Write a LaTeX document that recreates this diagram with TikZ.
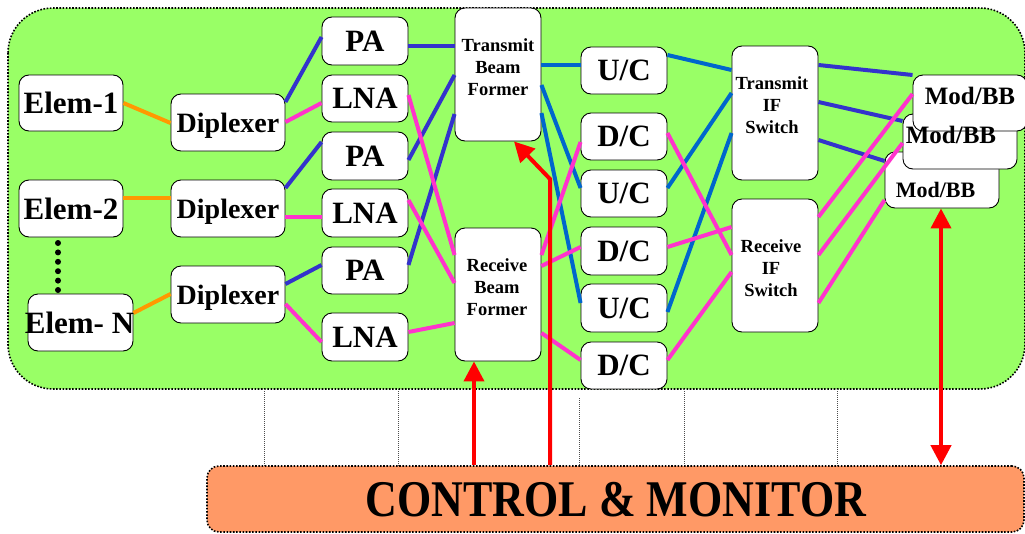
\documentclass[tikz,border=0pt]{standalone}
\usepackage{fontspec}
\setmainfont{Liberation Serif}
\usetikzlibrary{arrows.meta}
\definecolor{bggreen}{HTML}{99FF66}
\definecolor{ctrlorange}{HTML}{FF9966}
\definecolor{lnpink}{HTML}{FF33CC}
\definecolor{lnblue}{HTML}{3333CC}
\definecolor{lnsky}{HTML}{0066CC}
\definecolor{lnorange}{HTML}{FF9900}
\definecolor{arrred}{HTML}{FF0000}
\begin{document}
\begin{tikzpicture}[x=1pt,y=-1pt,
  blk/.style={draw=black, line width=0.9pt, fill=white, rounded corners=10pt, inner sep=0pt,
    font=\bfseries\fontsize{31}{31}\selectfont, text depth=0pt},
  small/.style={blk, minimum width=86pt},
  txt/.style={inner sep=0pt, align=center, font=\bfseries\fontsize{18.5}{22}\selectfont},
  mbtxt/.style={inner sep=0pt, text depth=0pt},
  dotframe/.style={draw=black, line width=1.6pt, dash pattern=on 1.6pt off 1.6pt},
  guide/.style={draw=black!70, line width=0.8pt, dash pattern=on 1pt off 1pt},
  cor/.style={line width=4pt, lnorange},
  cbl/.style={line width=4pt, lnblue},
  cpk/.style={line width=4pt, lnpink},
  csk/.style={line width=4pt, lnsky},
  redarrow/.style={draw=arrred, line width=4pt, -{Triangle[width=20pt,length=20pt]}},
  reddbl/.style={draw=arrred, line width=4pt, {Triangle[width=20pt,length=20pt]}-{Triangle[width=20pt,length=20pt]}}
]
\useasboundingbox (0,0) rectangle (1025,533);
% background panel
\path[fill=bggreen, dotframe, rounded corners=45pt] (8,8) rectangle (1025,389);
% thin guides
\foreach \gx in {264,398,684,837} \draw[guide] (\gx,389) -- (\gx,466);
\draw[guide] (579,398) -- (579,473);
% control box
\node[draw=black, line width=1.6pt, dash pattern=on 1.6pt off 1.6pt, fill=ctrlorange, rounded corners=12pt,
  minimum width=817pt, minimum height=66pt, inner sep=0pt] (ctrl) at (615.5,499) {};
\node[inner sep=0pt, font=\bfseries\fontsize{44}{44}\selectfont] (ctrltxt) at (616,500) {\scalebox{1}[1.17]{CONTROL \& MONITOR}};

% boxes
\node[blk, minimum width=104pt, minimum height=56pt] (e1) at (71,103) {Elem-1};
\node[blk, minimum width=104pt, minimum height=57pt] (e2) at (71,208.5) {Elem-2};
\node[blk, minimum width=105pt, minimum height=57pt] (eN) at (80.5,322.5) {};
\node[inner sep=0pt, font=\bfseries\fontsize{31}{31}\selectfont, text depth=0pt] (eNt) at (79.5,323) {Elem- N};
\foreach \dy in {243,252.4,261.8,271.2,280.6,290} \fill (58,\dy) circle (3pt);

\tikzset{dip/.style={blk, minimum width=114pt, minimum height=57pt, font=\bfseries\fontsize{28}{28}\selectfont}}
\node[dip] (d1) at (228,122.5) {Diplexer};
\node[dip] (d2) at (228,208.5) {Diplexer};
\node[dip] (d3) at (228,294.5) {Diplexer};

\node[small, minimum height=48pt] (pa1) at (365,41) {PA};
\node[small, minimum height=47pt] (lna1) at (365,98.5) {LNA};
\node[small, minimum height=48pt] (pa2) at (365,156) {PA};
\node[small, minimum height=48pt] (lna2) at (365,213) {LNA};
\node[small, minimum height=47pt] (pa3) at (365,270.5) {PA};
\node[small, minimum height=48pt] (lna3) at (365,337) {LNA};

\node[small, minimum height=133pt] (tbf) at (498,74.5) {};
\node[small, minimum height=133pt] (rbf) at (498,294.5) {};

\node[small, minimum height=47pt] (uc1) at (624,70.5) {U/C};
\node[small, minimum height=47pt] (dc1) at (624,136.5) {D/C};
\node[small, minimum height=47pt] (uc2) at (624,193.5) {U/C};
\node[small, minimum height=48pt] (dc2) at (624,251) {D/C};
\node[small, minimum height=48pt] (uc3) at (624,308) {U/C};
\node[small, minimum height=47pt] (dc3) at (624,365.5) {D/C};

\node[small, minimum height=134pt] (tif) at (775,113) {};
\node[small, minimum height=133pt] (rif) at (775,265.5) {};

% connectors
\draw[cor] (e1.east |- 0,103) -- (d1.west |- 0,123);
\draw[cor] (e2.east |- 0,198) -- (d2.west |- 0,198);
\draw[cor] (eN.east |- 0,313) -- (d3.west |- 0,294);

\draw[cbl] (d1.east |- 0,102) -- (pa1.west |- 0,37);
\draw[cbl] (d2.east |- 0,188) -- (pa2.west |- 0,142);
\draw[cbl] (d3.east |- 0,284) -- (pa3.west |- 0,265);
\draw[cpk] (d1.east |- 0,122) -- (lna1.west |- 0,103);
\draw[cpk] (d2.east |- 0,217) -- (lna2.west |- 0,217);
\draw[cpk] (d3.east |- 0,304) -- (lna3.west |- 0,342);

\draw[cbl] (pa1.east |- 0,46) -- (tbf.west |- 0,46);
\draw[cbl] (pa2.east |- 0,160) -- (tbf.west |- 0,75);
\draw[cbl] (pa3.east |- 0,265) -- (tbf.west |- 0,114);
\draw[cpk] (lna1.east |- 0,95) -- (rbf.west |- 0,255);
\draw[cpk] (lna2.east |- 0,200) -- (rbf.west |- 0,283);
\draw[cpk] (lna3.east |- 0,332) -- (rbf.west |- 0,323);

\draw[csk] (tbf.east |- 0,65) -- (uc1.west |- 0,65);
\draw[csk] (tbf.east |- 0,85) -- (uc2.west |- 0,188);
\draw[csk] (tbf.east |- 0,113) -- (uc3.west |- 0,303);
\draw[cpk] (rbf.east |- 0,255) -- (dc1.west |- 0,142);
\draw[cpk] (rbf.east |- 0,266) -- (dc2.west |- 0,247);
\draw[cpk] (rbf.east |- 0,333) -- (dc3.west |- 0,360);

\draw[csk] (uc1.east |- 0,55) -- (tif.west |- 0,70);
\draw[csk] (uc2.east |- 0,188) -- (tif.west |- 0,93);
\draw[csk] (uc3.east |- 0,312) -- (tif.west |- 0,133);
\draw[cpk] (dc1.east |- 0,133) -- (rif.west |- 0,255);
\draw[cpk] (dc2.east |- 0,247) -- (rif.west |- 0,227);
\draw[cpk] (dc3.east |- 0,360) -- (rif.west |- 0,272);

% Mod/BB stack
\node[blk, minimum width=114pt, minimum height=56pt] (mb3) at (942,180) {};
\node[blk, minimum width=114pt, minimum height=55pt] (mb2) at (960,141.5) {};
\node[blk, minimum width=114pt, minimum height=56pt] (mb1) at (970,103) {};

\draw[cbl] (tif.east |- 0,65) -- (mb1.west |- 0,75);
\draw[cbl] (tif.east |- 0,102) -- (mb2.west |- 0,121);
\draw[cbl] (tif.east |- 0,140) -- (mb3.west |- 0,161);
\draw[cpk] (rif.east |- 0,217) -- (mb1.west |- 0,94);
\draw[cpk] (rif.east |- 0,255) -- (mb2.west |- 0,143);
\draw[cpk] (rif.east |- 0,303) -- (mb3.west |- 0,200);

\node[mbtxt, font=\bfseries\fontsize{25}{25}\selectfont] (mb1t) at (970,96) {Mod/BB};
\node[mbtxt, font=\bfseries\fontsize{25}{25}\selectfont] (mb2t) at (951,134.5) {Mod/BB};
\node[mbtxt, font=\bfseries\fontsize{22}{22}\selectfont] (mb3t) at (935.5,189.5) {Mod/BB};

% box texts
\node[txt] (tbft) at (498,67) {Transmit\\Beam\\Former};
\node[txt] (rbft) at (497,287) {Receive\\Beam\\Former};
\node[txt] (tift) at (772,105.5) {Transmit\\IF\\Switch};
\node[txt] (rift) at (771,268) {Receive\\IF\\Switch};

% red arrows
\coordinate (bend) at (550,179);
\draw[redarrow] (ctrl.north -| 474,0) -- (rbf.south -| 474,0);
\draw[redarrow] (ctrl.north -| bend) -- (bend) -- (tbf.south -| 514,0);
\draw[reddbl] (mb3.south -| 941,0) -- (ctrl.north -| 941,0);
\end{tikzpicture}
\end{document}
